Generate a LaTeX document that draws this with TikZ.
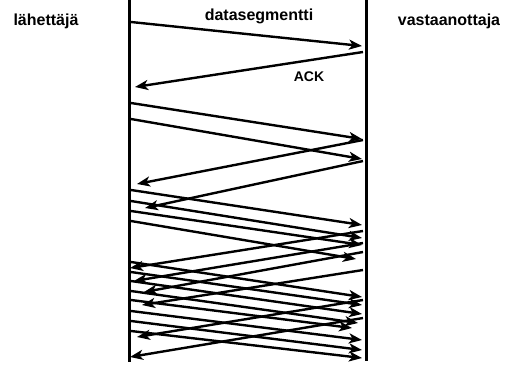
\documentclass[tikz,border=0pt]{standalone}
\usepackage{fontspec}
\setmainfont{Liberation Sans}
\usetikzlibrary{arrows.meta}
\begin{document}
\begin{tikzpicture}[x=1pt,y=-1pt,
  lifeline/.style={line width=3pt},
  msg/.style={line width=2.4pt,-{Stealth[length=13pt,width=10pt,inset=3.5pt]}},
  lbl/.style={font=\fontsize{16}{19}\selectfont\bfseries,anchor=base,inner sep=0pt},
  small/.style={font=\fontsize{14}{17}\selectfont\bfseries,anchor=base,inner sep=0pt}]
\useasboundingbox (0,0) rectangle (513,367);

% labels
\node[lbl] (snd) at (46,25) {lähettäjä};
\node[lbl] (seg) at (259,20) {datasegmentti};
\node[lbl] (rcv) at (449,25) {vastaanottaja};
\node[small] (ack) at (309,81) {ACK};

% lifelines
\coordinate (Ltop) at (129,0);
\coordinate (Lbot) at (129,362);
\coordinate (Rtop) at (366,0);
\coordinate (Rbot) at (366,361);
\draw[lifeline] (Ltop) -- (Lbot);
\draw[lifeline] (Rtop) -- (Rbot);

% data segments: sender -> receiver
\foreach \n/\ya/\yb/\xb in {
  1/22/46/362,
  2/103/139/362, 3/119/159/362,
  4/190/225/362, 5/201/238/362, 6/211/245/362, 7/221/259/356,
  8/262/297/362, 9/272/305/362, 10/281/314/362, 11/291/323/358,
  12/300/328/352, 13/311/340/362, 14/321/350/362, 15/331/358/362}{
  \coordinate (d\n s) at (131,\ya);
  \coordinate (d\n e) at (\xb,\yb);
  \draw[msg] (d\n s) -- (d\n e);
}

% acknowledgements: receiver -> sender
\foreach \n/\ya/\yb/\xb in {
  1/52/87/135,
  2/140/184/137, 3/161/208/145,
  4/231/268/130, 5/243/281/134, 6/252/292/144, 7/270/305/142,
  8/300/337/137, 9/318/357/130}{
  \coordinate (a\n s) at (363,\ya);
  \coordinate (a\n e) at (\xb,\yb);
  \draw[msg] (a\n s) -- (a\n e);
}
\end{tikzpicture}
\end{document}
